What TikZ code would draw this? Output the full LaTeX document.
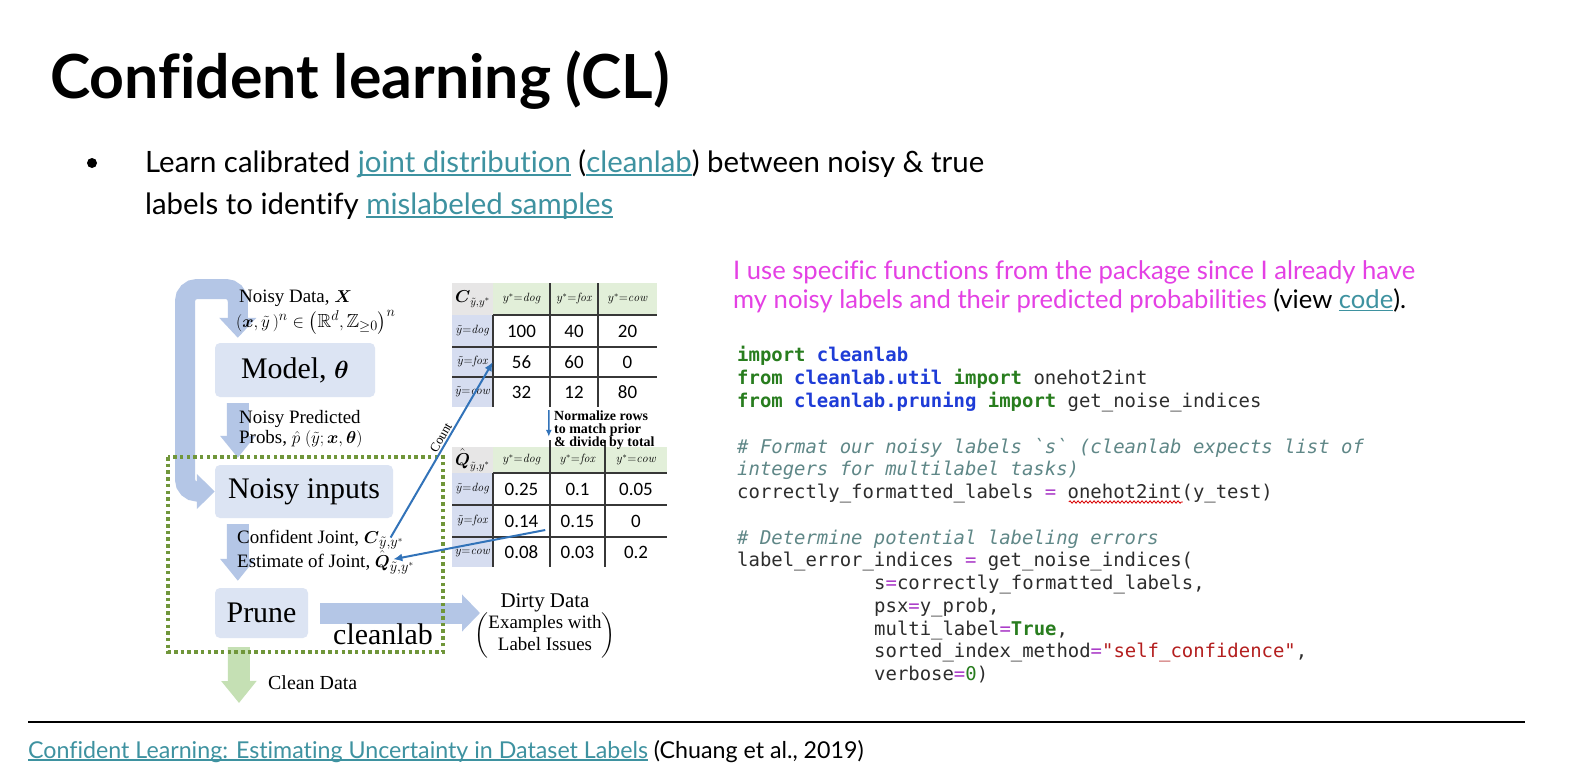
\documentclass[tikz,border=0pt]{standalone}
\usepackage{amsmath,amssymb}
\usepackage{fontspec}
\usetikzlibrary{arrows.meta,positioning,decorations.pathmorphing}
\newfontfamily\slidefont{Lato}[Ligatures=NoCommon]
\newfontfamily\codefont{DejaVu Sans Mono}
\newfontfamily\numfont{Carlito}
\newfontfamily\figfont{Liberation Serif}
\definecolor{linkteal}{RGB}{62,146,160}
\definecolor{pinktxt}{RGB}{228,64,228}
\definecolor{boxblue}{RGB}{220,228,243}
\definecolor{bandblue}{RGB}{180,198,230}
\definecolor{cleangreen}{RGB}{197,224,180}
\definecolor{dotgreen}{RGB}{112,150,58}
\definecolor{arrowblue}{RGB}{50,115,185}
\definecolor{headgreen}{RGB}{226,239,217}
\definecolor{rowblue}{RGB}{214,221,240}
\definecolor{cornergrey}{RGB}{231,230,230}
\definecolor{rulegrey}{RGB}{55,55,55}
\definecolor{codegrey}{RGB}{45,45,45}
\definecolor{codegreen}{RGB}{40,125,30}
\definecolor{codeblue}{RGB}{30,60,215}
\definecolor{codecmt}{RGB}{95,135,135}
\definecolor{codepurple}{RGB}{170,60,200}
\definecolor{codered}{RGB}{180,30,30}
\newsavebox{\lnkbox}
\newcommand{\lnk}[1]{{\color{linkteal}\sbox{\lnkbox}{#1}\rlap{\rule[-0.12em]{\wd\lnkbox}{0.06em}}\usebox{\lnkbox}}}
\newcommand{\kwd}[1]{\textcolor{codegreen}{\bfseries #1}}
\newcommand{\mdl}[1]{\textcolor{codeblue}{\bfseries #1}}
\newcommand{\cmt}[1]{\textcolor{codecmt}{\itshape #1}}
\newcommand{\eqs}{\textcolor{codepurple}{=}}
\newcommand{\strg}[1]{\textcolor{codered}{#1}}

\begin{document}
\begin{tikzpicture}[x=1bp, y=-1bp,
    lbl/.style={inner sep=0pt, anchor=base west, font=\figfont\fontsize{19}{22}\selectfont},
    boxlbl/.style={rectangle, rounded corners=5bp, fill=boxblue, inner sep=0pt, font=\figfont\fontsize{30}{34}\selectfont},
    band/.style={line width=20bp, draw=bandblue},
    shaft/.style={line width=22bp, draw=bandblue, -{Triangle[width=34bp,length=22bp]}, shorten <=6bp, shorten >=7bp},
    tabrule/.style={draw=rulegrey, line width=1.8bp},
    cell/.style={inner sep=0pt, minimum height=30bp},
    num/.style={cell, font=\numfont\fontsize{19}{22}\selectfont},
    small/.style={cell, font=\fontsize{12}{14}\selectfont},
    thinarr/.style={draw=arrowblue, line width=2bp, -{Latex[length=9bp,width=8bp]}},
    slide/.style={inner sep=0pt, anchor=base west, font=\slidefont\fontsize{29.5}{34}\selectfont},
    code/.style={inner sep=0pt, anchor=base west, text=codegrey, font=\codefont\fontsize{19}{22}\selectfont}
]
\fill[white] (0,0) rectangle (1576,780);
\useasboundingbox (0,0) rectangle (1576,780);

\node[inner sep=0pt, anchor=base west, font=\slidefont\bfseries\fontsize{61}{70}\selectfont] (title) at (50,98) {Confident learning (CL)};
\node[circle, fill=black, inner sep=0pt, minimum size=10bp] (dot) at (92,163) {};
\node[slide] (bul1) at (145,172) {Learn calibrated \lnk{joint distribution} (\lnk{cleanlab}) between noisy \& true};
\node[slide] (bul2) at (145,214) {labels to identify \lnk{mislabeled samples}};

\node[slide, font=\slidefont\fontsize{25.7}{30}\selectfont, text=pinktxt] (note1) at (733,279) {I use specific functions from the package since I already have};
\node[slide, font=\slidefont\fontsize{25.7}{30}\selectfont, text=pinktxt] (note2) at (733,308) {my noisy labels and their predicted probabilities \textcolor{black}{(view \lnk{code}).}};

\node[code] (code1) at (737,361) {\kwd{import} \mdl{cleanlab}};
\node[code] (code2) at (737,384) {\kwd{from} \mdl{cleanlab.util} \kwd{import} onehot2int};
\node[code] (code3) at (737,407) {\kwd{from} \mdl{cleanlab.pruning} \kwd{import} get\_noise\_indices};
\node[code] (code4) at (737,453) {\cmt{\# Format our noisy labels `s` (cleanlab expects list of}};
\node[code] (code5) at (737,475) {\cmt{integers for multilabel tasks)}};
\node[code] (code6) at (737,498) {correctly\_formatted\_labels \eqs{} onehot2int(y\_test)};
\node[code] (code7) at (737,544) {\cmt{\# Determine potential labeling errors}};
\node[code] (code8) at (737,566) {label\_error\_indices \eqs{} get\_noise\_indices(};
\node[code] (code9) at (874,589) {s\eqs{}correctly\_formatted\_labels,};
\node[code] (code10) at (874,612) {psx\eqs{}y\_prob,};
\node[code] (code11) at (874,635) {multi\_label\eqs{}\kwd{True},};
\node[code] (code12) at (874,657) {sorted\_index\_method\eqs{}\strg{"self\_confidence"},};
\node[code] (code13) at (874,680) {verbose\eqs{}\textcolor{codegreen}{0})};
\draw[red!85!black, line width=0.8bp, decorate, decoration={snake, amplitude=1.2bp, segment length=4bp}]
    ([xshift=29*11.44bp, yshift=-4bp]code6.base west) -- ++(114,0);

\draw[line width=2bp] (28,722) -- (1525,722);
\node[slide, font=\slidefont\fontsize{23.3}{27}\selectfont] (cite) at (28,758) {\lnk{Confident Learning: Estimating Uncertainty in Dataset Labels} (Chuang et al., 2019)};

% left flow
\node[boxlbl, minimum width=160bp, minimum height=54bp] (model) at (295,370) {Model, $\boldsymbol{\theta}$};
\node[boxlbl, minimum width=178bp, minimum height=53bp] (inputs) at (304,491.5) {Noisy inputs};
\node[boxlbl, minimum width=93bp, minimum height=50bp] (prune) at (261.5,613) {Prune};
\coordinate (loop) at (185,289);
\coordinate (dirtytip) at (480,613);
\coordinate (cleanend) at (239,703);
\draw[band, {Triangle[width=36bp,length=20bp]}-{Triangle[width=34bp,length=18bp]}, rounded corners=12bp]
    ([xshift=23bp, yshift=5bp]model.north west) |- (loop) |- (inputs.west);
\draw[shaft] ([xshift=23bp]model.south west) -- ([xshift=23bp]inputs.north west);
\draw[shaft] ([xshift=23bp]inputs.south west) -- ([xshift=23bp]prune.north west);
\draw[shaft, draw=cleangreen, shorten >=0pt, shorten <=9bp] ([xshift=24bp]prune.south west) -- (cleanend);
\draw[shaft, line width=21bp, -{Triangle[width=36bp,length=18bp]}, shorten >=0pt, shorten <=12bp] (prune.east) -- (dirtytip);

\node[lbl] (data1) at (239,302) {Noisy Data, $\boldsymbol{X}$};
\node[lbl] (data2) at (236,327) {$(\boldsymbol{x},\tilde{y}\,)^n \in \left(\mathbb{R}^d, \mathbb{Z}_{\geq 0}\right)^n$};
\node[lbl] (pred1) at (239,423) {Noisy Predicted};
\node[lbl] (pred2) at (239,443) {Probs, $\hat{p}\;(\tilde{y};\boldsymbol{x},\boldsymbol{\theta})$};
\node[lbl] (cjoint) at (237,543) {Confident Joint, $\boldsymbol{C}_{\tilde{y},y^{*}}$};
\node[lbl] (qest) at (237,567) {Estimate of Joint, $\hat{\boldsymbol{Q}}_{\tilde{y},y^{*}}$};
\node[lbl, anchor=base east, font=\figfont\fontsize{30}{34}\selectfont] (cl) at (433,644) {cleanlab};
\node[lbl, font=\figfont\fontsize{20}{24}\selectfont] (clean) at (268,689) {Clean Data};
\node[lbl, anchor=base, font=\figfont\fontsize{21}{24}\selectfont] (dirty) at (545,607) {Dirty Data};
\node[inner sep=0pt, font=\figfont\fontsize{19}{22}\selectfont] (issues) at (545,635) {$\left(\begin{tabular}{@{}c@{}}Examples with\\Label Issues\end{tabular}\right)$};
\draw[dotgreen, line width=3.5bp, dash pattern=on 3.5bp off 3.2bp] (168,457) rectangle (443,652);

% C table
\fill[cornergrey] (452,283) rectangle (493,315);
\fill[headgreen] (493,283) rectangle (657,315);
\fill[rowblue] (452,315) rectangle (493,407);
\draw[tabrule] (493,315) -- (657,315) (452,347) -- (657,347) (452,377) -- (657,377)
    (493,315) -- (493,407) (550,283) -- (550,407) (598,283) -- (598,407);
\node[small, font=\fontsize{16}{18}\selectfont] (ch0) at (472.5,299) {$\boldsymbol{C}_{\tilde{y},y^{*}}$};
\foreach \n/\x/\w/\lab in {1/521.5/57/dog, 2/574/48/fox, 3/627.5/59/cow}
    \node[small, minimum width=\w bp] (ch\n) at (\x,299) {$y^{*}{=}\mathit{\lab}$};
\foreach \r/\y/\lab in {1/331/dog, 2/362/fox, 3/392/cow}
    \node[small] (cr\r) at (472.5,\y) {$\tilde{y}{=}\mathit{\lab}$};
\foreach \r/\y/\a/\b/\d in {1/331/100/40/20, 2/362/56/60/0, 3/392/32/12/80} {
    \node[num, minimum width=57bp] (c\r1) at (521.5,\y) {\a};
    \node[num, minimum width=48bp] (c\r2) at (574,\y) {\b};
    \node[num, minimum width=59bp] (c\r3) at (627.5,\y) {\d};
}

% Q table
\fill[cornergrey] (452,447) rectangle (493,473);
\fill[headgreen] (493,447) rectangle (667,473);
\fill[rowblue] (452,473) rectangle (493,567);
\draw[tabrule] (493,473) -- (667,473) (452,505) -- (667,505) (452,537) -- (667,537)
    (493,473) -- (493,567) (550,440) -- (550,567) (605,440) -- (605,567);
\node[small, font=\fontsize{16}{18}\selectfont] (qh0) at (472.5,460) {$\hat{\boldsymbol{Q}}_{\tilde{y},y^{*}}$};
\foreach \n/\x/\w/\lab in {1/521.5/57/dog, 2/577.5/55/fox, 3/636/62/cow}
    \node[small, minimum width=\w bp, minimum height=26bp] (qh\n) at (\x,460) {$y^{*}{=}\mathit{\lab}$};
\foreach \r/\y/\lab in {1/489/dog, 2/521/fox, 3/552/cow}
    \node[small] (qr\r) at (472.5,\y) {$\tilde{y}{=}\mathit{\lab}$};
\foreach \r/\y/\a/\b/\d in {1/489/0.25/0.1/0.05, 2/521/0.14/0.15/0, 3/552/0.08/0.03/0.2} {
    \node[num, minimum width=57bp] (q\r1) at (521.5,\y) {\a};
    \node[num, minimum width=55bp] (q\r2) at (577.5,\y) {\b};
    \node[num, minimum width=62bp] (q\r3) at (636,\y) {\d};
}

\node[inner sep=0pt, anchor=north west, align=left, font=\figfont\bfseries\fontsize{14}{12.5}\selectfont] (norm) at (554,411) {Normalize rows\\to match prior\\\& divide by total};
\draw[thinarr, line width=1.6bp, -{Latex[length=7bp,width=6bp]}, shorten <=3bp, shorten >=10bp] ([xshift=-1bp]c32.south west) -- ([xshift=-1bp]qh2.north west);
\draw[thinarr] ([xshift=-13bp, yshift=2bp]cjoint.east) -- (c21.west)
    node[sloped, above, pos=0.55, inner sep=1.5bp, font=\figfont\fontsize{13}{15}\selectfont] {Count};
\draw[thinarr] ([xshift=-5bp, yshift=-9bp]q21.east) -- ([xshift=-21bp, yshift=3bp]qest.east);
\end{tikzpicture}
\end{document}
